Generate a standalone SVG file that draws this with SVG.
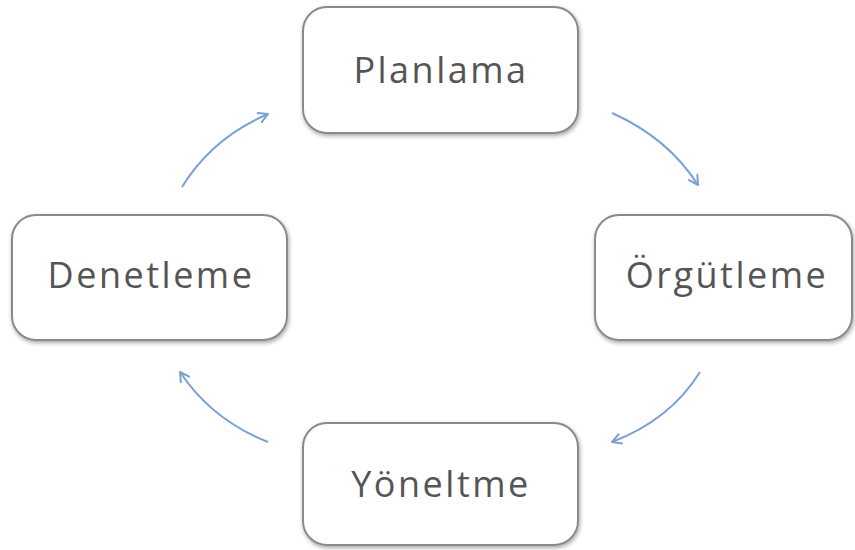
<svg xmlns="http://www.w3.org/2000/svg" width="855" height="550" viewBox="0 0 855 550">
<defs>
<filter id="sh" x="-10%" y="-10%" width="120%" height="130%">
<feGaussianBlur in="SourceAlpha" stdDeviation="2"/>
<feOffset dx="1" dy="2"/>
<feComponentTransfer><feFuncA type="linear" slope="0.35"/></feComponentTransfer>
<feMerge><feMergeNode/><feMergeNode in="SourceGraphic"/></feMerge>
</filter>
<marker id="ah" viewBox="0 0 12 12" refX="10" refY="6" markerWidth="12" markerHeight="12" markerUnits="userSpaceOnUse" orient="auto">
<path d="M1,1 L10,6 L1,11" fill="none" stroke="#7aa0d4" stroke-width="2" stroke-linecap="round" stroke-linejoin="round"/>
</marker>
<style>
.box{fill:#ffffff;stroke:#8a8a8a;stroke-width:2;filter:url(#sh)}
.lbl{font-family:"Open Sans","Liberation Sans",sans-serif;font-size:36px;letter-spacing:2.5px;fill:#555555;text-anchor:middle}
.arr{fill:none;stroke:#7aa0d4;stroke-width:2;marker-end:url(#ah)}
</style>
</defs>
<g id="planlama">
<rect class="box" x="303" y="7" width="275" height="126" rx="24"/>
<text class="lbl" x="441" y="83">Planlama</text>
</g>
<g id="orgutleme">
<rect class="box" x="595" y="215" width="257" height="125" rx="24"/>
<text class="lbl" x="727" y="288">Örgütleme</text>
</g>
<g id="yoneltme">
<rect class="box" x="303" y="423" width="275" height="122" rx="24"/>
<text class="lbl" x="441" y="497">Yöneltme</text>
</g>
<g id="denetleme">
<rect class="box" x="12" y="215" width="275" height="125" rx="24"/>
<text class="lbl" x="151" y="288">Denetleme</text>
</g>
<g id="connectors">
<path class="arr" d="M612,113 Q668,138 698,185"/>
<path class="arr" d="M700,372 Q670,420 612,442"/>
<path class="arr" d="M268,442 Q212,420 180,372"/>
<path class="arr" d="M182,187 Q212,138 268,114"/>
</g>
</svg>
